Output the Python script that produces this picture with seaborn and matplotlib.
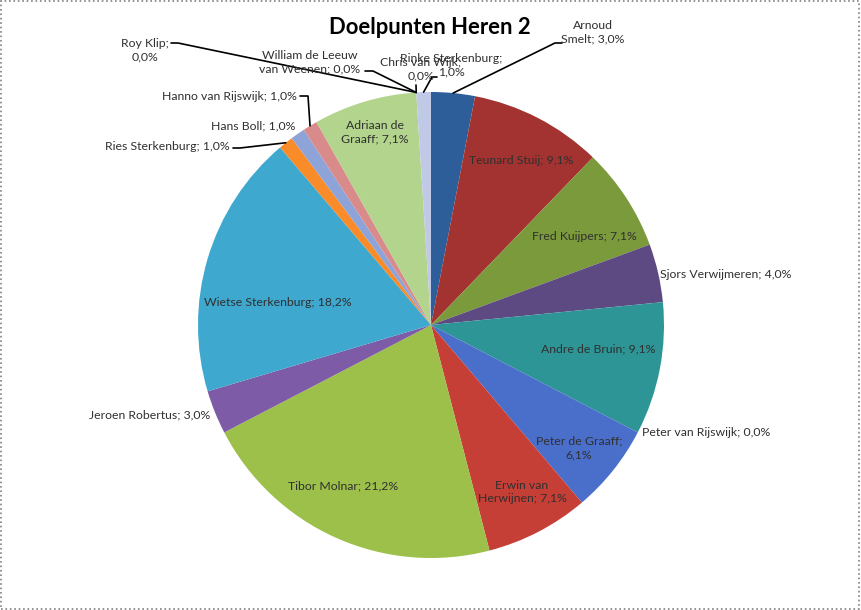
import numpy as np
import matplotlib
matplotlib.use("Agg")
import matplotlib.pyplot as plt
import seaborn as sns
from matplotlib.patches import Rectangle

# ---- data (clockwise from 12 o'clock) ----
players = [
    "Arnoud Smelt", "Teunard Stuij", "Fred Kuijpers", "Sjors Verwijmeren",
    "Andre de Bruin", "Peter van Rijswijk", "Peter de Graaff",
    "Erwin van Herwijnen", "Tibor Molnar", "Jeroen Robertus",
    "Wietse Sterkenburg", "Ries Sterkenburg", "Hans Boll",
    "Hanno van Rijswijk", "Adriaan de Graaff", "William de Leeuw van Weenen",
    "Roy Klip", "Chris van Wijk", "Rinke Sterkenburg",
]
percent = [3.0, 9.1, 7.1, 4.0, 9.1, 0.0, 6.1, 7.1, 21.2, 3.0,
           18.2, 1.0, 1.0, 1.0, 7.1, 0.0, 0.0, 0.0, 1.0]
colors = [
    "#2E5E9A", "#A23330", "#7A9A3C", "#5E4A82", "#2D9596", "#E46C0A",
    "#4A6FCB", "#C63F36", "#9CC04A", "#7D5BA6", "#3FA8CF", "#F98B28",
    "#8EA4D8", "#D98B8B", "#B3D48C", "#B3A2C7", "#93CDDD", "#FAC090",
    "#C0CAE6",
]
title = "Doelpunten Heren 2"

# ---- layout (pixel coordinates, y downwards) ----
W, H = 861, 610
CENTER = (431, 325)
RADIUS = 233

# how Excel wrapped some labels
wrap = {
    "Arnoud Smelt": ("Arnoud\nSmelt", "; "),
    "William de Leeuw van Weenen": ("William de Leeuw\nvan Weenen", "; "),
    "Adriaan de Graaff": ("Adriaan de\nGraaff", "; "),
    "Erwin van Herwijnen": ("Erwin van\nHerwijnen", "; "),
    "Roy Klip": ("Roy Klip", ";\n"),
    "Chris van Wijk": ("Chris van Wijk", ";\n"),
    "Rinke Sterkenburg": ("Rinke Sterkenburg", ";\n"),
    "Peter de Graaff": ("Peter de Graaff", ";\n"),
}

# label position (x, y, ha)
label_pos = {
    "Arnoud Smelt": (593, 32, "center"),
    "Teunard Stuij": (521, 160, "center"),
    "Fred Kuijpers": (584, 237, "center"),
    "Sjors Verwijmeren": (660, 274, "left"),
    "Andre de Bruin": (598, 349, "center"),
    "Peter van Rijswijk": (642, 433, "left"),
    "Peter de Graaff": (579, 448, "center"),
    "Erwin van Herwijnen": (522, 492, "center"),
    "Tibor Molnar": (343, 486, "center"),
    "Jeroen Robertus": (210, 415, "right"),
    "Wietse Sterkenburg": (278, 302, "center"),
    "Ries Sterkenburg": (230, 146, "right"),
    "Hans Boll": (295, 126, "right"),
    "Hanno van Rijswijk": (297, 96, "right"),
    "Adriaan de Graaff": (375, 132, "center"),
    "William de Leeuw van Weenen": (310, 62, "center"),
    "Roy Klip": (145, 50, "center"),
    "Chris van Wijk": (421, 69, "center"),
    "Rinke Sterkenburg": (451, 65, "center"),
}

# leader lines: points on the text side, the last point goes to the pie edge
leaders = {
    "Arnoud Smelt": [(562, 43), (555, 43)],
    "Rinke Sterkenburg": [(437, 77), (432, 77)],
    "Chris van Wijk": [(416, 85)],
    "William de Leeuw van Weenen": [(365, 71), (373, 71)],
    "Roy Klip": [(171, 43), (178, 43)],
    "Hanno van Rijswijk": [(300, 96), (308, 96)],
    "Ries Sterkenburg": [(233, 148), (240, 148)],
}

sns.set_theme(style="white")
plt.rcParams["font.family"] = ["Lato", "DejaVu Sans"]

fig = plt.figure(figsize=(W / 100, H / 100), dpi=100)
ax = fig.add_axes([0, 0, 1, 1])

# y axis is inverted, so counterclock in data = clockwise on screen
wedges, _ = ax.pie(percent, colors=sns.color_palette(colors), startangle=270,
                   counterclock=True, center=CENTER, radius=RADIUS,
                   wedgeprops=dict(linewidth=0))

ax.set_xlim(0, W)
ax.set_ylim(H, 0)
ax.set_aspect("equal")
ax.axis("off")

for name, pct, w in zip(players, percent, wedges):
    text_name, sep = wrap.get(name, (name, "; "))
    txt = f"{text_name}{sep}{pct:.1f}%".replace(".", ",")
    x, y, ha = label_pos[name]
    ax.text(x, y, txt, ha=ha, va="center", multialignment="center",
            fontsize=8.8, color="#303030", linespacing=1.3, zorder=5)
    if name in leaders:
        mid = np.deg2rad((w.theta1 + w.theta2) / 2)
        edge = (CENTER[0] + RADIUS * np.cos(mid), CENTER[1] + RADIUS * np.sin(mid))
        pts = leaders[name] + [edge]
        ax.plot([p[0] for p in pts], [p[1] for p in pts], color="black",
                linewidth=1.2, zorder=4)

ax.text(430, 27, title, ha="center", va="center", fontsize=15.8,
        fontweight="bold", color="black")

# dotted frame around the picture
fig.patches.append(Rectangle((0.001, 0.002), 0.997, 0.996, transform=fig.transFigure,
                             fill=False, edgecolor="#808080", linestyle=":",
                             linewidth=1.2))

fig.savefig("out.png", dpi=100)
